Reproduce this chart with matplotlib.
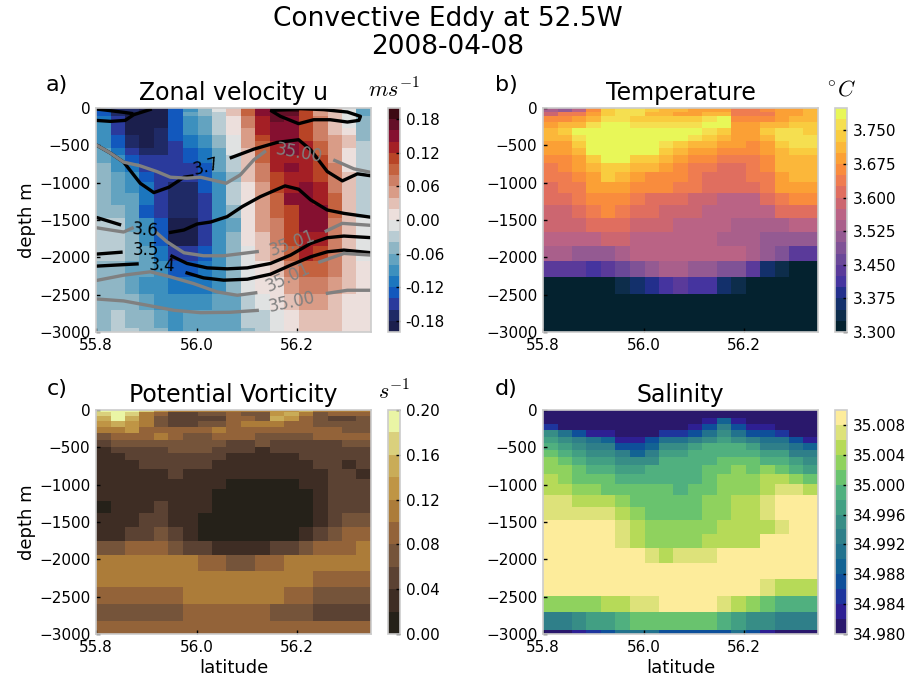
import numpy as np
import matplotlib
matplotlib.use('Agg')
import matplotlib.pyplot as plt
from matplotlib.colors import ListedColormap, BoundaryNorm

plt.rcParams['font.family'] = 'DejaVu Sans'
plt.rcParams['mathtext.fontset'] = 'cm'

W, H = 912, 684

# cell edges
lat_edges = [55.800, 55.829, 55.858, 55.886, 55.915, 55.944, 55.973, 56.002, 56.030, 56.059,
             56.088, 56.117, 56.146, 56.174, 56.203, 56.232, 56.261, 56.290, 56.318, 56.347]
depth_edges = [0, 58, 112, 188, 269, 358, 448, 537, 627, 730, 851, 985, 1133, 1299, 1469,
               1657, 1849, 2051, 2261, 2485, 2709, 2942, 3000]
depth_edges_pv = [0, 27, 85, 148, 228, 313, 403, 493, 582, 676, 788, 918, 1057, 1214, 1384,
                  1563, 1751, 1948, 2154, 2373, 2597, 2826, 3000]

# colour band of each cell, u is listed by latitude, the others by depth
u_bands = [
    [3, 3, 4, 5, 5, 5, 5, 6, 6, 7, 7, 7, 7, 7, 8, 8, 8, 7, 7, 7, 7, 7],
    [1, 1, 2, 2, 2, 3, 3, 4, 5, 5, 6, 6, 6, 7, 8, 8, 8, 7, 7, 7, 8, 8],
    [1, 0, 0, 0, 0, 1, 1, 2, 3, 4, 5, 5, 6, 6, 6, 7, 7, 6, 6, 7, 7, 8],
    [0, 0, 0, 0, 0, 0, 0, 1, 2, 2, 3, 4, 4, 3, 5, 5, 6, 6, 5, 6, 7, 7],
    [0, 0, 0, 0, 1, 1, 1, 1, 2, 2, 2, 2, 2, 2, 3, 3, 4, 5, 5, 5, 6, 7],
    [3, 3, 3, 3, 3, 3, 2, 2, 2, 2, 2, 1, 1, 1, 0, 0, 2, 3, 4, 5, 5, 5],
    [5, 6, 5, 5, 5, 4, 4, 3, 3, 2, 2, 1, 1, 1, 0, 0, 2, 3, 4, 5, 6, 6],
    [7, 7, 6, 6, 6, 5, 5, 4, 4, 3, 3, 3, 2, 2, 2, 2, 3, 4, 4, 5, 6, 6],
    [9, 8, 8, 8, 8, 7, 7, 6, 6, 6, 5, 5, 5, 5, 5, 5, 5, 5, 5, 6, 6, 6],
    [11, 11, 10, 10, 10, 9, 9, 9, 8, 8, 7, 8, 8, 7, 6, 7, 7, 7, 7, 6, 6, 6],
    [14, 14, 13, 13, 12, 12, 12, 11, 11, 11, 11, 10, 10, 10, 10, 10, 9, 9, 9, 8, 8, 7],
    [17, 17, 16, 16, 16, 15, 14, 14, 14, 13, 13, 12, 12, 12, 12, 11, 11, 10, 10, 9, 8, 8],
    [19, 18, 18, 17, 17, 17, 16, 16, 16, 16, 15, 15, 14, 14, 13, 13, 12, 11, 10, 10, 9, 9],
    [19, 18, 17, 17, 17, 17, 17, 17, 16, 17, 16, 16, 17, 15, 15, 15, 14, 13, 12, 11, 10, 10],
    [15, 15, 15, 15, 15, 15, 16, 16, 16, 16, 16, 17, 17, 17, 17, 16, 16, 14, 13, 12, 11, 11],
    [12, 12, 13, 13, 13, 13, 14, 14, 15, 15, 15, 16, 16, 17, 17, 16, 15, 14, 13, 12, 11, 11],
    [11, 11, 11, 11, 11, 12, 12, 12, 12, 13, 13, 13, 14, 14, 13, 13, 13, 13, 12, 11, 11, 11],
    [9, 9, 9, 9, 10, 11, 11, 10, 10, 10, 11, 11, 11, 11, 11, 11, 11, 11, 11, 10, 10, 10],
    [6, 6, 7, 7, 7, 7, 8, 8, 8, 8, 8, 8, 8, 8, 9, 9, 9, 10, 10, 10, 10, 10],
]

temp_bands = [
    [9, 8, 10, 14, 17, 18, 18, 17, 16, 16, 15, 15, 15, 13, 13, 14, 15, 15, 16],
    [11, 13, 13, 15, 17, 18, 18, 16, 16, 15, 15, 16, 16, 13, 13, 13, 15, 15, 16],
    [14, 14, 15, 16, 18, 18, 17, 17, 17, 17, 17, 18, 19, 14, 14, 14, 15, 16, 16],
    [15, 16, 16, 18, 19, 19, 18, 18, 18, 18, 18, 19, 19, 15, 15, 16, 16, 17, 17],
    [16, 17, 19, 19, 19, 19, 19, 19, 19, 19, 19, 18, 17, 15, 15, 17, 18, 18, 17],
    [16, 16, 18, 19, 19, 19, 19, 19, 19, 19, 18, 17, 16, 15, 15, 16, 18, 18, 18],
    [15, 15, 17, 19, 19, 19, 19, 19, 18, 17, 16, 16, 15, 15, 14, 15, 17, 18, 18],
    [15, 15, 16, 19, 19, 19, 19, 19, 17, 16, 15, 15, 14, 14, 14, 15, 16, 17, 17],
    [14, 14, 15, 17, 19, 19, 17, 17, 16, 15, 14, 14, 13, 13, 13, 14, 16, 16, 16],
    [13, 14, 15, 16, 17, 17, 16, 16, 15, 14, 13, 13, 12, 12, 13, 14, 16, 16, 16],
    [13, 13, 14, 15, 17, 16, 15, 14, 14, 14, 13, 12, 12, 12, 13, 13, 15, 16, 16],
    [12, 13, 13, 15, 15, 15, 14, 14, 14, 13, 13, 12, 12, 12, 12, 13, 15, 15, 15],
    [12, 12, 13, 14, 14, 14, 13, 12, 12, 12, 11, 11, 10, 10, 10, 12, 13, 14, 14],
    [11, 11, 12, 13, 14, 13, 12, 12, 11, 11, 11, 10, 10, 10, 10, 10, 12, 12, 12],
    [11, 11, 11, 12, 12, 12, 11, 11, 11, 10, 10, 10, 10, 9, 9, 9, 9, 10, 10],
    [10, 10, 10, 10, 11, 11, 10, 10, 10, 10, 10, 10, 9, 9, 9, 8, 8, 8, 8],
    [9, 9, 8, 8, 8, 9, 10, 10, 10, 10, 10, 10, 10, 10, 9, 8, 7, 5, 5],
    [5, 5, 5, 4, 5, 6, 7, 8, 9, 9, 8, 8, 7, 7, 5, 2, 1, 0, 0],
    [0, 0, 0, 0, 0, 1, 2, 3, 4, 5, 4, 4, 2, 1, 0, 0, 0, 0, 0],
    [0] * 19,
    [0] * 19,
    [0] * 19,
]

pv_bands = [
    [9, 9, 9, 8, 6, 5, 5, 5, 5, 5, 5, 5, 6, 6, 7, 5, 5, 5, 5],
    [8, 9, 8, 5, 4, 2, 2, 3, 3, 4, 3, 3, 6, 7, 5, 3, 4, 4, 4],
    [7, 9, 7, 5, 3, 2, 2, 2, 2, 4, 4, 3, 7, 6, 4, 3, 2, 2, 3],
    [6, 7, 6, 5, 3, 2, 2, 3, 3, 4, 5, 5, 5, 4, 4, 3, 3, 3, 3],
    [5, 5, 6, 4, 4, 4, 4, 4, 5, 4, 4, 4, 4, 4, 4, 4, 4, 3, 3],
    [3, 4, 4, 4, 5, 4, 3, 3, 4, 4, 4, 3, 3, 3, 3, 4, 4, 4, 4],
    [2, 3, 3, 3, 3, 3, 3, 3, 3, 2, 2, 3, 2, 2, 2, 2, 2, 3, 3],
    [1, 2, 2, 2, 2, 3, 3, 3, 2, 2, 2, 1, 2, 2, 2, 2, 2, 2, 2],
    [1, 1, 2, 2, 2, 2, 2, 2, 2, 1, 1, 1, 1, 1, 2, 2, 2, 2, 2],
    [1, 1, 1, 2, 2, 2, 2, 2, 1, 1, 1, 1, 1, 1, 1, 2, 2, 1, 2],
    [1, 1, 1, 1, 1, 2, 1, 1, 1, 1, 1, 1, 1, 1, 1, 1, 2, 2, 1],
    [1, 1, 1, 1, 1, 1, 1, 1, 1, 0, 0, 0, 0, 0, 1, 1, 2, 2, 2],
    [1, 1, 1, 1, 1, 1, 1, 1, 0, 0, 0, 0, 0, 0, 0, 1, 2, 2, 2],
    [0, 1, 1, 1, 2, 1, 1, 1, 0, 0, 0, 0, 0, 0, 0, 1, 2, 2, 2],
    [1, 1, 1, 2, 2, 1, 1, 0, 0, 0, 0, 0, 0, 0, 0, 1, 2, 3, 3],
    [1, 1, 2, 2, 3, 2, 1, 0, 0, 0, 0, 0, 0, 0, 1, 2, 3, 4, 4],
    [3, 3, 4, 4, 4, 3, 2, 2, 1, 1, 1, 1, 2, 2, 3, 4, 4, 4, 5],
    [5, 5, 5, 5, 5, 5, 5, 4, 4, 3, 3, 4, 4, 5, 5, 5, 5, 5, 5],
    [5, 5, 5, 5, 5, 5, 5, 5, 5, 5, 5, 5, 5, 5, 5, 4, 4, 4, 4],
    [4, 4, 4, 4, 4, 4, 5, 5, 5, 5, 5, 5, 5, 4, 4, 3, 3, 3, 3],
    [3, 3, 3, 3, 3, 3, 4, 4, 4, 4, 4, 4, 3, 3, 3, 2, 2, 2, 2],
    [4, 4, 4, 4, 4, 4, 4, 4, 4, 4, 4, 4, 4, 4, 4, 4, 4, 4, 4],
]

salt_bands = [
    [0] * 19,
    [0] * 19,
    [0, 0, 0, 0, 0, 0, 0, 0, 0, 0, 0, 1, 4, 1, 0, 0, 0, 0, 0],
    [2, 0, 0, 0, 0, 0, 0, 0, 0, 0, 1, 3, 6, 3, 1, 1, 0, 0, 0],
    [7, 5, 3, 1, 1, 0, 0, 0, 2, 2, 3, 5, 7, 5, 3, 3, 2, 0, 0],
    [8, 7, 6, 5, 4, 1, 1, 3, 5, 5, 6, 7, 8, 7, 6, 5, 5, 3, 1],
    [9, 8, 7, 6, 6, 3, 3, 4, 7, 7, 8, 9, 9, 9, 8, 6, 6, 5, 4],
    [10, 9, 8, 7, 7, 6, 4, 6, 8, 8, 9, 9, 9, 9, 9, 8, 8, 6, 6],
    [11, 10, 9, 8, 8, 7, 7, 7, 9, 9, 9, 9, 10, 10, 10, 9, 9, 8, 7],
    [11, 11, 10, 9, 9, 8, 8, 9, 9, 9, 9, 10, 10, 11, 10, 11, 10, 9, 8],
    [12, 11, 10, 10, 10, 9, 9, 9, 9, 9, 9, 10, 11, 11, 11, 12, 12, 11, 10],
    [12, 12, 11, 11, 10, 10, 10, 10, 10, 9, 10, 10, 11, 11, 11, 12, 13, 13, 12],
    [13, 13, 12, 12, 12, 11, 10, 10, 10, 10, 10, 11, 11, 12, 12, 13, 14, 14, 14],
    [13, 13, 13, 13, 13, 12, 11, 10, 10, 10, 10, 11, 11, 12, 12, 13, 14, 14, 14],
    [14, 14, 14, 14, 14, 13, 12, 11, 11, 11, 11, 11, 12, 12, 12, 12, 13, 14, 14],
    [14, 14, 14, 14, 14, 13, 12, 11, 11, 11, 11, 12, 12, 12, 12, 14, 14, 14, 14],
    [14, 14, 14, 14, 14, 14, 14, 13, 12, 13, 13, 13, 14, 14, 14, 14, 14, 14, 14],
    [14] * 19,
    [14, 14, 14, 14, 14, 14, 14, 14, 14, 14, 14, 14, 14, 14, 14, 13, 12, 12, 12],
    [11, 11, 11, 11, 12, 12, 13, 13, 14, 14, 14, 14, 13, 12, 11, 10, 9, 9, 9],
    [6, 6, 7, 8, 8, 9, 10, 10, 10, 10, 10, 10, 9, 8, 7, 7, 6, 6, 6],
    [0, 0, 1, 2, 3, 5, 5, 5, 3, 3, 3, 3, 3, 5, 3, 1, 0, 0, 0],
]

# colours, bottom to top
u_colors = ['#1b1f4d', '#1f2a66', '#2a3a9c', '#1258bd', '#1c76be', '#3d90be', '#63a3c0', '#8fb6c5',
            '#b9ccd3', '#e0e2e2', '#ecdfdc', '#e3c0b5', '#d99c87', '#cd7f65', '#c4623f', '#b84426',
            '#a41f25', '#851030', '#640f27', '#3c0912']
temp_colors = ['#04222f', '#0d2d4b', '#13306b', '#232f8c', '#45349f', '#5a3a9a', '#6a4898', '#7f5296',
               '#945a92', '#a95f8b', '#ba6385', '#cc6670', '#e06e5f', '#ef7c50', '#f98c3d', '#fba035',
               '#fbb73a', '#f9cc3f', '#f5df50', '#e8f758']
pv_colors = ['#252119', '#3e2d24', '#5b4233', '#75543a', '#936339', '#ac7c39', '#bf9545', '#c9ac58',
             '#dad07d', '#eaf5a5']
salt_colors = ['#2a186c', '#2e1f93', '#1e359d', '#0e4f9a', '#136393', '#22728d', '#2f7f89', '#378d86',
               '#429f83', '#50b07f', '#69c36e', '#8fd25e', '#b6da58', '#dde27a', '#fdec9b']

# contour pieces of panel a, split where the labels sit
black_lines = [
    ([55.800, 55.829, 55.855, 55.888, 55.915, 55.945, 55.975, 55.994], [493, 605, 725, 1008, 1133, 1061, 927, 909]),
    ([56.066, 56.114, 56.160, 56.203, 56.227, 56.260, 56.290, 56.320, 56.348], [672, 551, 461, 425, 560, 851, 976, 882, 909]),
    ([55.800, 55.829, 55.858, 55.875, 55.911], [166, 179, 166, 90, 13]),
    ([55.800, 55.829, 55.855, 55.874], [13, 36, 58, 76]),
    ([56.147, 56.167, 56.203, 56.233, 56.266, 56.300, 56.323, 56.326, 56.300, 56.253, 56.207, 56.147], [31, 112, 210, 157, 157, 188, 166, 112, 54, 22, 9, 31]),
    ([55.800, 55.850], [1464, 1567]),
    ([55.945, 55.975, 56.001, 56.028, 56.061, 56.091, 56.127, 56.176, 56.203, 56.227, 56.260, 56.293, 56.348], [1670, 1634, 1554, 1527, 1455, 1320, 1187, 1043, 1088, 1231, 1366, 1411, 1464]),
    ([55.800, 55.853], [1957, 1930]),
    ([55.948, 55.981, 56.021, 56.061, 56.101, 56.147, 56.187, 56.227, 56.260, 56.293, 56.348], [1975, 2082, 2141, 2154, 2141, 2082, 1970, 1814, 1737, 1715, 1737]),
    ([55.800, 55.885], [2118, 2087]),
    ([55.978, 56.014, 56.054, 56.101, 56.147, 56.187, 56.227, 56.260, 56.293, 56.348], [2203, 2275, 2306, 2293, 2226, 2105, 1993, 1926, 1903, 1939]),
]
gray_lines = [
    ([55.800, 55.829, 55.855, 55.888, 55.921, 55.948, 55.981, 56.008, 56.059, 56.087, 56.114, 56.138], [493, 605, 725, 775, 851, 927, 940, 927, 1008, 896, 694, 573]),
    ([56.272, 56.313, 56.348], [694, 815, 864]),
    ([55.800, 55.829, 55.855, 55.875], [1603, 1634, 1661, 1599]),
    ([55.918, 55.941, 55.975, 56.014, 56.054, 56.124], [1657, 1791, 1939, 1979, 1979, 1921]),
    ([56.255, 56.290, 56.348], [1657, 1545, 1572]),
    ([55.800, 55.855, 55.908, 55.948, 55.994, 56.041, 56.081, 56.121], [2311, 2239, 2194, 2261, 2351, 2463, 2508, 2472]),
    ([56.242, 56.293, 56.348], [2069, 1948, 1970]),
    ([55.800, 55.855, 55.902, 55.955, 56.008, 56.067, 56.124], [2557, 2584, 2642, 2709, 2741, 2736, 2709]),
    ([56.257, 56.300, 56.348], [2485, 2441, 2441]),
]
black_labels = [('3.7', 56.019, 784, 15), ('3.6', 55.897, 1634, -5), ('3.5', 55.900, 1903, 0), ('3.4', 55.931, 2114, -3)]
gray_labels = [('35.00', 56.204, 605, -10), ('35.01', 56.190, 1813, 20), ('35.01', 56.182, 2270, 25), ('35.00', 56.190, 2597, 12)]

depth_ticks = [0, -500, -1000, -1500, -2000, -2500, -3000]
lat_ticks = [55.8, 56.0, 56.2]
u_ticks = [-0.18, -0.12, -0.06, 0.0, 0.06, 0.12, 0.18]
temp_ticks = [3.3, 3.375, 3.45, 3.525, 3.6, 3.675, 3.75]
pv_ticks = [0.0, 0.04, 0.08, 0.12, 0.16, 0.2]
salt_ticks = [34.98, 34.984, 34.988, 34.992, 34.996, 35.0, 35.004, 35.008]


def make_axes(left, top, width=275, height=224):
    return fig.add_axes([left / W, 1 - (top + height) / H, width / W, height / H])


def panel(left, top, bands, colors, vmin, vmax, depths, ticks, fmt, title, xlabel=False, ylabel=False):
    ax = make_axes(left, top)
    cax = make_axes(left + 292, top, 12, 224)
    n = len(colors)
    edges = np.linspace(vmin, vmax, n + 1)
    values = edges[np.array(bands)] + (vmax - vmin) / n / 2
    mesh = ax.pcolormesh(lat_edges, -np.array(depths), values,
                         cmap=ListedColormap(colors), norm=BoundaryNorm(edges, n))
    ax.set_xlim(lat_edges[0], lat_edges[-1])
    ax.set_ylim(-3000, 0)
    ax.set_xticks(lat_ticks)
    ax.set_yticks(depth_ticks)
    ax.set_xticklabels(['%.1f' % t for t in lat_ticks])
    ax.tick_params(direction='in', length=3, width=1, labelsize=11, pad=4)
    ax.set_title(title, fontsize=17, pad=6)
    if ylabel:
        ax.set_ylabel('depth m', fontsize=13, labelpad=2)
    if xlabel:
        ax.set_xlabel('latitude', fontsize=13, labelpad=3)
    cb = fig.colorbar(mesh, cax=cax, ticks=ticks, format=fmt, spacing='proportional')
    cb.ax.tick_params(direction='in', length=3, width=1, labelsize=11, pad=4, which='major')
    cb.ax.minorticks_off()
    cb.dividers.set_visible(False)
    cb.outline.set_edgecolor('#cccccc')
    cb.outline.set_linewidth(1.2)
    for sp in ax.spines.values():
        sp.set_edgecolor('#cccccc')
        sp.set_linewidth(1.2)
    return ax


fig = plt.figure(figsize=(W / 100, H / 100), dpi=100)

ax_a = panel(96, 108, np.array(u_bands).T, u_colors, -0.2, 0.2, depth_edges, u_ticks, '%.2f',
             'Zonal velocity u', ylabel=True)
ax_b = panel(543, 108, temp_bands, temp_colors, 3.3, 3.8, depth_edges, temp_ticks, '%.3f', 'Temperature')
ax_c = panel(96, 410, pv_bands, pv_colors, 0.0, 0.2, depth_edges_pv, pv_ticks, '%.2f',
             'Potential Vorticity', xlabel=True, ylabel=True)
ax_d = panel(543, 410, salt_bands, salt_colors, 34.98, 35.01, depth_edges, salt_ticks, '%.3f',
             'Salinity', xlabel=True)

for xs, ds in black_lines:
    ax_a.plot(xs, -np.array(ds), color='black', lw=2.4, solid_capstyle='butt')
for xs, ds in gray_lines:
    ax_a.plot(xs, -np.array(ds), color='gray', lw=2.4, solid_capstyle='butt')
for s, x, d, rot in black_labels:
    ax_a.text(x, -d, s, color='black', fontsize=12, rotation=rot, ha='center', va='center')
for s, x, d, rot in gray_labels:
    ax_a.text(x, -d, s, color='gray', fontsize=12, rotation=rot, ha='center', va='center')

fig.text(448 / W, 1 - 33 / H, 'Convective Eddy at 52.5W\n2008-04-08', fontsize=19, ha='center', va='center',
         linespacing=1.1)

for s, x, y in [('a)', 57, 85), ('b)', 506, 85), ('c)', 57, 389), ('d)', 506, 389)]:
    fig.text(x / W, 1 - y / H, s, fontsize=16, ha='center', va='center')
for s, x, y in [('$ms^{-1}$', 394, 89), ('$^{\\circ}C$', 842, 90), ('$s^{-1}$', 394, 391)]:
    fig.text(x / W, 1 - y / H, s, fontsize=16, ha='center', va='center')

fig.savefig('out.png', dpi=100)
